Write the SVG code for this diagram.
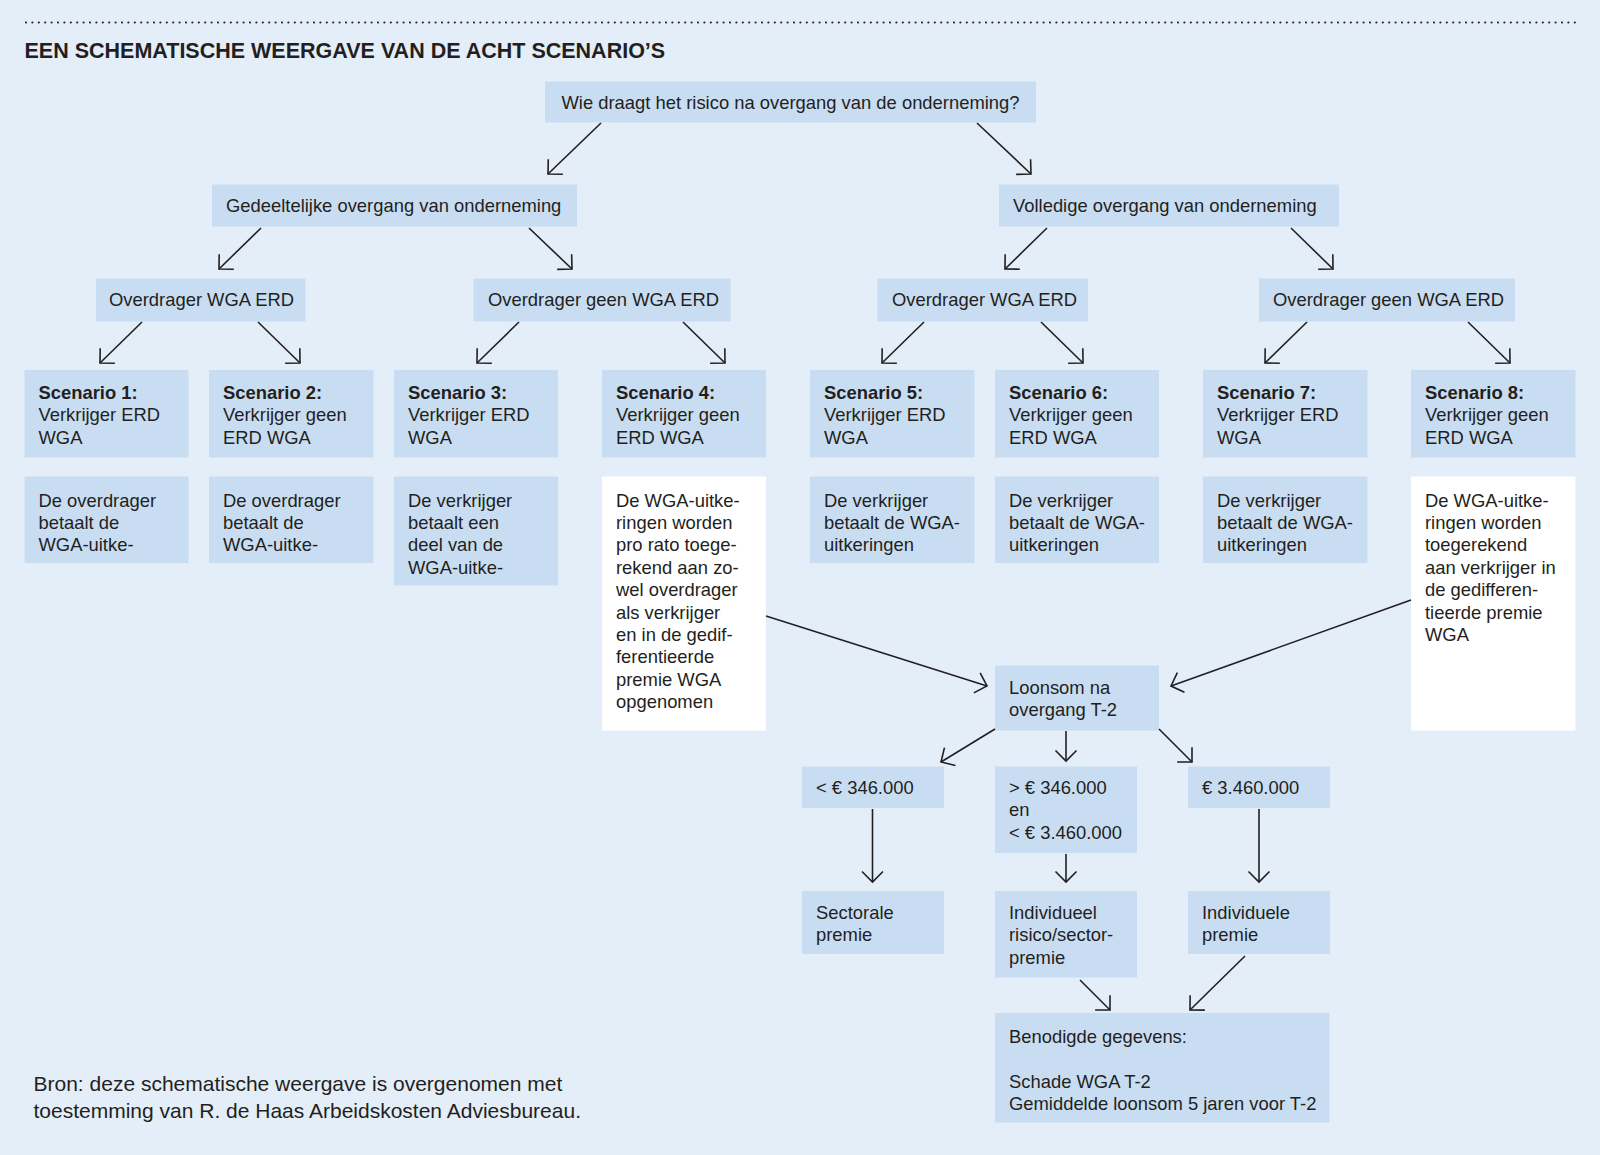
<svg xmlns="http://www.w3.org/2000/svg" width="1600" height="1155" viewBox="0 0 1600 1155">
<style>
  .bg{fill:#e3eef9}
  .box{fill:#c9ddf2}
  .wbox{fill:#ffffff}
  .t{font-family:"Liberation Sans",Arial,sans-serif;font-size:18.4px;fill:#231f20}
  .b{font-weight:bold}
  .title{font-family:"Liberation Sans",Arial,sans-serif;font-size:21.5px;font-weight:bold;fill:#231f20}
  .src{font-family:"Liberation Sans",Arial,sans-serif;font-size:21px;fill:#231f20}
  .c{fill:none;stroke:#231f20;stroke-width:1.6;marker-end:url(#ah)}
</style>
<defs>
  <marker id="ah" viewBox="-13 -13 15 26" markerWidth="15" markerHeight="26" refX="0" refY="0" orient="auto" markerUnits="userSpaceOnUse">
    <path d="M-10.5,-10.5 L0,0 L-10.5,10.5" fill="none" stroke="#231f20" stroke-width="1.6"/>
  </marker>
</defs>
<rect class="bg" x="0" y="0" width="1600" height="1155"/>
<line x1="26" y1="22.5" x2="1577" y2="22.5" stroke="#231f20" stroke-width="2.2" stroke-linecap="round" stroke-dasharray="0 6.4"/>
<text class="title" x="24.5" y="58">EEN SCHEMATISCHE WEERGAVE VAN DE ACHT SCENARIO’S</text>

<g id="n-top"><rect class="box" x="545" y="81.5" width="491" height="41"/><text class="t" x="790.5" y="109" text-anchor="middle">Wie draagt het risico na overgang van de onderneming?</text></g>

<g id="n-gedeeltelijk"><rect class="box" x="212" y="184.5" width="365" height="42"/><text class="t" x="226" y="212">Gedeeltelijke overgang van onderneming</text></g>
<g id="n-volledig"><rect class="box" x="999" y="184.5" width="340" height="42"/><text class="t" x="1013" y="212">Volledige overgang van onderneming</text></g>

<g id="n-l3a"><rect class="box" x="96" y="278.5" width="209.5" height="43"/><text class="t" x="109" y="306">Overdrager WGA ERD</text></g>
<g id="n-l3b"><rect class="box" x="473.5" y="278.5" width="257" height="43"/><text class="t" x="488" y="306">Overdrager geen WGA ERD</text></g>
<g id="n-l3c"><rect class="box" x="877.5" y="278.5" width="210.5" height="43"/><text class="t" x="892" y="306">Overdrager WGA ERD</text></g>
<g id="n-l3d"><rect class="box" x="1259" y="278.5" width="256" height="43"/><text class="t" x="1273" y="306">Overdrager geen WGA ERD</text></g>

<g id="n-s1"><rect class="box" x="24.5" y="370" width="164" height="87.5"/><text class="t" x="38.5" y="399"><tspan class="b">Scenario 1:</tspan><tspan x="38.5" dy="22.4">Verkrijger ERD</tspan><tspan x="38.5" dy="22.4">WGA</tspan></text></g>
<g id="n-s2"><rect class="box" x="209" y="370" width="164.5" height="87.5"/><text class="t" x="223" y="399"><tspan class="b">Scenario 2:</tspan><tspan x="223" dy="22.4">Verkrijger geen</tspan><tspan x="223" dy="22.4">ERD WGA</tspan></text></g>
<g id="n-s3"><rect class="box" x="394" y="370" width="164" height="87.5"/><text class="t" x="408" y="399"><tspan class="b">Scenario 3:</tspan><tspan x="408" dy="22.4">Verkrijger ERD</tspan><tspan x="408" dy="22.4">WGA</tspan></text></g>
<g id="n-s4"><rect class="box" x="602" y="370" width="164" height="87.5"/><text class="t" x="616" y="399"><tspan class="b">Scenario 4:</tspan><tspan x="616" dy="22.4">Verkrijger geen</tspan><tspan x="616" dy="22.4">ERD WGA</tspan></text></g>
<g id="n-s5"><rect class="box" x="810" y="370" width="164.5" height="87.5"/><text class="t" x="824" y="399"><tspan class="b">Scenario 5:</tspan><tspan x="824" dy="22.4">Verkrijger ERD</tspan><tspan x="824" dy="22.4">WGA</tspan></text></g>
<g id="n-s6"><rect class="box" x="995" y="370" width="164" height="87.5"/><text class="t" x="1009" y="399"><tspan class="b">Scenario 6:</tspan><tspan x="1009" dy="22.4">Verkrijger geen</tspan><tspan x="1009" dy="22.4">ERD WGA</tspan></text></g>
<g id="n-s7"><rect class="box" x="1203" y="370" width="164.5" height="87.5"/><text class="t" x="1217" y="399"><tspan class="b">Scenario 7:</tspan><tspan x="1217" dy="22.4">Verkrijger ERD</tspan><tspan x="1217" dy="22.4">WGA</tspan></text></g>
<g id="n-s8"><rect class="box" x="1411" y="370" width="164.5" height="87.5"/><text class="t" x="1425" y="399"><tspan class="b">Scenario 8:</tspan><tspan x="1425" dy="22.4">Verkrijger geen</tspan><tspan x="1425" dy="22.4">ERD WGA</tspan></text></g>

<g id="n-d1"><rect class="box" x="24.5" y="476.5" width="164" height="86.5"/><text class="t" x="38.5" y="506.5"><tspan>De overdrager</tspan><tspan x="38.5" dy="22.4">betaalt de</tspan><tspan x="38.5" dy="22.4">WGA-uitke-</tspan></text></g>
<g id="n-d2"><rect class="box" x="209" y="476.5" width="164.5" height="86.5"/><text class="t" x="223" y="506.5"><tspan>De overdrager</tspan><tspan x="223" dy="22.4">betaalt de</tspan><tspan x="223" dy="22.4">WGA-uitke-</tspan></text></g>
<g id="n-d3"><rect class="box" x="394" y="476.5" width="164" height="109"/><text class="t" x="408" y="506.5"><tspan>De verkrijger</tspan><tspan x="408" dy="22.4">betaalt een</tspan><tspan x="408" dy="22.4">deel van de</tspan><tspan x="408" dy="22.4">WGA-uitke-</tspan></text></g>
<g id="n-d4"><rect class="wbox" x="602" y="476.5" width="164" height="254"/><text class="t" x="616" y="506.5"><tspan>De WGA-uitke-</tspan><tspan x="616" dy="22.4">ringen worden</tspan><tspan x="616" dy="22.4">pro rato toege-</tspan><tspan x="616" dy="22.4">rekend aan zo-</tspan><tspan x="616" dy="22.4">wel overdrager</tspan><tspan x="616" dy="22.4">als verkrijger</tspan><tspan x="616" dy="22.4">en in de gedif-</tspan><tspan x="616" dy="22.4">ferentieerde</tspan><tspan x="616" dy="22.4">premie WGA</tspan><tspan x="616" dy="22.4">opgenomen</tspan></text></g>
<g id="n-d5"><rect class="box" x="810" y="476.5" width="164.5" height="86.5"/><text class="t" x="824" y="506.5"><tspan>De verkrijger</tspan><tspan x="824" dy="22.4">betaalt de WGA-</tspan><tspan x="824" dy="22.4">uitkeringen</tspan></text></g>
<g id="n-d6"><rect class="box" x="995" y="476.5" width="164" height="86.5"/><text class="t" x="1009" y="506.5"><tspan>De verkrijger</tspan><tspan x="1009" dy="22.4">betaalt de WGA-</tspan><tspan x="1009" dy="22.4">uitkeringen</tspan></text></g>
<g id="n-d7"><rect class="box" x="1203" y="476.5" width="164.5" height="86.5"/><text class="t" x="1217" y="506.5"><tspan>De verkrijger</tspan><tspan x="1217" dy="22.4">betaalt de WGA-</tspan><tspan x="1217" dy="22.4">uitkeringen</tspan></text></g>
<g id="n-d8"><rect class="wbox" x="1411" y="476.5" width="164.5" height="254"/><text class="t" x="1425" y="506.5"><tspan>De WGA-uitke-</tspan><tspan x="1425" dy="22.4">ringen worden</tspan><tspan x="1425" dy="22.4">toegerekend</tspan><tspan x="1425" dy="22.4">aan verkrijger in</tspan><tspan x="1425" dy="22.4">de gedifferen-</tspan><tspan x="1425" dy="22.4">tieerde premie</tspan><tspan x="1425" dy="22.4">WGA</tspan></text></g>

<g id="n-loonsom"><rect class="box" x="995" y="665.5" width="164" height="65"/><text class="t" x="1009" y="694"><tspan>Loonsom na</tspan><tspan x="1009" dy="22.4">overgang T-2</tspan></text></g>

<g id="n-th1"><rect class="box" x="802" y="766.5" width="142" height="41.5"/><text class="t" x="816" y="794">&lt; € 346.000</text></g>
<g id="n-th2"><rect class="box" x="995" y="766.5" width="142" height="86.5"/><text class="t" x="1009" y="794"><tspan>&gt; € 346.000</tspan><tspan x="1009" dy="22.4">en</tspan><tspan x="1009" dy="22.4">&lt; € 3.460.000</tspan></text></g>
<g id="n-th3"><rect class="box" x="1188" y="766.5" width="142" height="41.5"/><text class="t" x="1202" y="794">€ 3.460.000</text></g>

<g id="n-p1"><rect class="box" x="802" y="891" width="142" height="63"/><text class="t" x="816" y="919"><tspan>Sectorale</tspan><tspan x="816" dy="22.4">premie</tspan></text></g>
<g id="n-p2"><rect class="box" x="995" y="891" width="142" height="86.5"/><text class="t" x="1009" y="919"><tspan>Individueel</tspan><tspan x="1009" dy="22.4">risico/sector-</tspan><tspan x="1009" dy="22.4">premie</tspan></text></g>
<g id="n-p3"><rect class="box" x="1188" y="891" width="142" height="63"/><text class="t" x="1202" y="919"><tspan>Individuele</tspan><tspan x="1202" dy="22.4">premie</tspan></text></g>

<g id="n-benodigd"><rect class="box" x="995" y="1013" width="334.5" height="109.5"/><text class="t" x="1009" y="1043"><tspan>Benodigde gegevens:</tspan><tspan x="1009" dy="44.8">Schade WGA T-2</tspan><tspan x="1009" dy="22.4">Gemiddelde loonsom 5 jaren voor T-2</tspan></text></g>

<g id="connectors">
  <line class="c" x1="601" y1="123" x2="548" y2="174"/>
  <line class="c" x1="977" y1="123" x2="1031" y2="174"/>
  <line class="c" x1="261" y1="228" x2="219" y2="269"/>
  <line class="c" x1="529" y1="228" x2="572" y2="269"/>
  <line class="c" x1="1047" y1="228" x2="1005" y2="269"/>
  <line class="c" x1="1291" y1="228" x2="1333" y2="269"/>
  <line class="c" x1="142" y1="322" x2="100" y2="363"/>
  <line class="c" x1="258" y1="322" x2="300" y2="363"/>
  <line class="c" x1="519" y1="322" x2="477" y2="363"/>
  <line class="c" x1="683" y1="322" x2="725" y2="363"/>
  <line class="c" x1="924" y1="322" x2="882" y2="363"/>
  <line class="c" x1="1041" y1="322" x2="1083" y2="363"/>
  <line class="c" x1="1307" y1="322" x2="1265" y2="363"/>
  <line class="c" x1="1468" y1="322" x2="1510" y2="363"/>
  <line class="c" x1="766" y1="616" x2="987" y2="686"/>
  <line class="c" x1="1411" y1="600" x2="1171" y2="686"/>
  <line class="c" x1="995" y1="729" x2="941" y2="762"/>
  <line class="c" x1="1066" y1="731" x2="1066" y2="761"/>
  <line class="c" x1="1159" y1="729" x2="1192" y2="762"/>
  <line class="c" x1="872.5" y1="809" x2="872.5" y2="882"/>
  <line class="c" x1="1066" y1="854" x2="1066" y2="882"/>
  <line class="c" x1="1259" y1="809" x2="1259" y2="882"/>
  <line class="c" x1="1080" y1="980" x2="1110" y2="1010"/>
  <line class="c" x1="1245" y1="956" x2="1190" y2="1010"/>
</g>

<text class="src" x="33.5" y="1091"><tspan>Bron: deze schematische weergave is overgenomen met</tspan><tspan x="33.5" dy="26.5">toestemming van R. de Haas Arbeidskosten Adviesbureau.</tspan></text>
</svg>
